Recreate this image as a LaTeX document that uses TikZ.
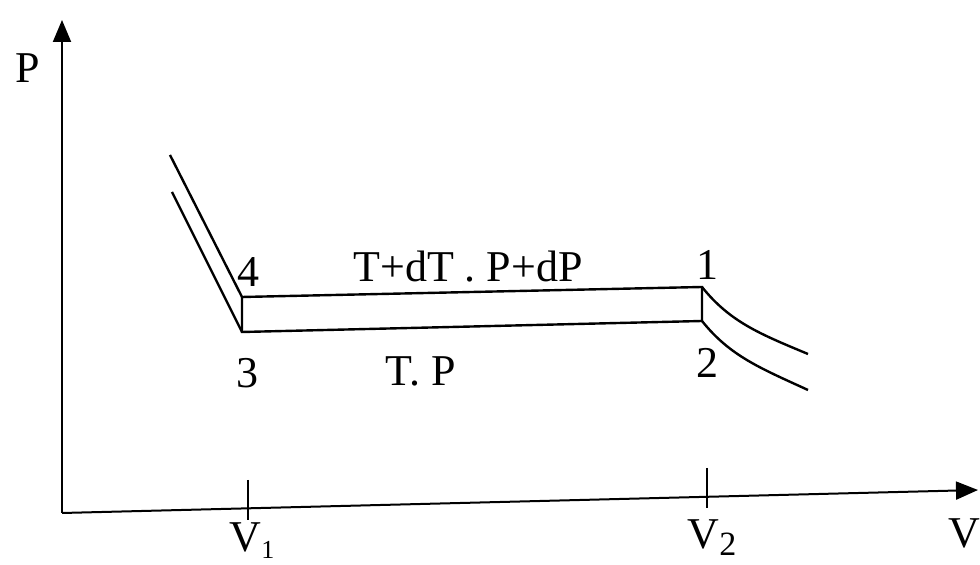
\documentclass[tikz,border=0pt]{standalone}
\usepackage{fontspec}
\setmainfont{Liberation Serif}
\usetikzlibrary{arrows.meta}
\begin{document}
\begin{tikzpicture}[x=0.5pt,y=-0.5pt,
  axis/.style={line width=1pt,-{Triangle[length=11pt,width=9pt]}},
  curve/.style={line width=1.2pt},
  lbl/.style={font=\fontsize{22}{26}\selectfont,inner sep=0pt},
  tick/.style={line width=0.6pt}]
\useasboundingbox (0,0) rectangle (980,565);
% axes
\coordinate (O) at (62,513);
\coordinate (Ytop) at (62,20);
\coordinate (Xend) at (978,490);
\draw[axis] (O) -- (Ytop);
\draw[axis] (O) -- (Xend);
% ticks
\coordinate (t1a) at (248,480); \coordinate (t1b) at (248,520);
\coordinate (t2a) at (707,468); \coordinate (t2b) at (707,508);
\draw[tick] (t1a) -- (t1b);
\draw[tick] (t2a) -- (t2b);
% state points
\coordinate (p4) at (242,297);
\coordinate (p3) at (242,332);
\coordinate (p1) at (702,287);
\coordinate (p2) at (702,321);
\coordinate (u4) at (170,155);
\coordinate (u3) at (172,192);
\coordinate (e1) at (808,354);
\coordinate (e2) at (808,390);
\draw[curve] (p3) -- (p4) -- (p1) -- (p2) -- cycle;
\draw[curve] (u4) -- (p4);
\draw[curve] (u3) -- (p3);
\draw[curve] (p1) .. controls (730,322) and (760,334) .. (e1);
\draw[curve] (p2) .. controls (730,356) and (760,368) .. (e2);
% labels
\node[lbl] (lP) at (28,68) {P};
\node[lbl] (lV) at (964,533) {V};
\node[lbl] (lV1) at (252,541) {V\raisebox{-0.35ex}{\fontsize{13}{13}\selectfont 1}};
\node[lbl] (lV2) at (712,538) {V\raisebox{-0.35ex}{\fontsize{17}{17}\selectfont 2}};
\node[lbl] (l4) at (248,272) {4};
\node[lbl] (l3) at (247,373) {3};
\node[lbl] (l1) at (707,265) {1};
\node[lbl] (l2) at (707,363) {2};
\node[lbl] (lt) at (468,267) {T+dT . P+dP};
\node[lbl] (lb) at (421,371) {T. P};
\end{tikzpicture}
\end{document}
